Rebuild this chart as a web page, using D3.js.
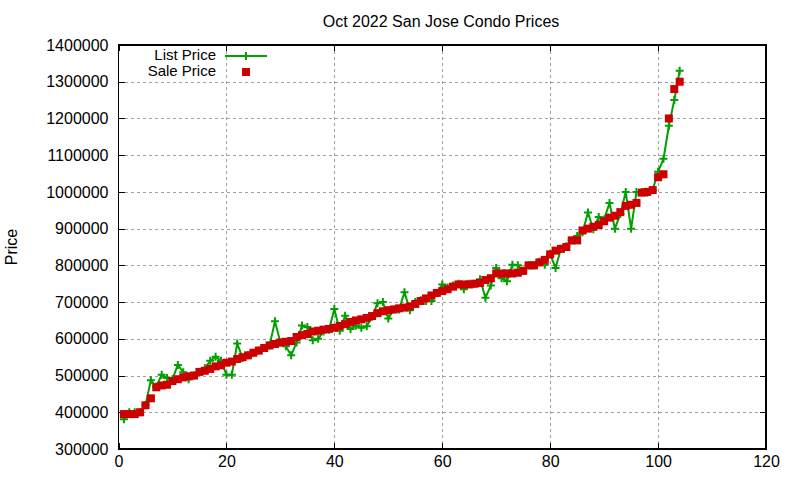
<!DOCTYPE html>
<html lang="en">
  <head>
    <meta charset="UTF-8"/>
    <title>Oct 2022 San Jose Condo Prices</title>
    <script src="https://d3js.org/d3.v7.min.js"></script>
    <style>
        body {
          margin: 0;
          background: #fff;
        }
        text {
          font-family: "Liberation Sans", Arial, sans-serif;
          font-size: 16px;
          fill: #000;
        }
        .legend text {
          font-size: 15px;
        }
        .grid line {
          stroke: #a0a0a0;
          stroke-width: 1;
          stroke-dasharray: 3, 3;
          shape-rendering: crispEdges;
        }
        .axis path {
          display: none;
        }
        .axis line {
          stroke: #000;
          shape-rendering: crispEdges;
        }
        .border {
          fill: none;
          stroke: #000;
          stroke-width: 1.5;
          shape-rendering: crispEdges;
        }
    </style>
  </head>
  <body>
    <script>
        // listing index 1..104, sorted by sale price
        const listPrice = [
          381000, 400000, 400000, 400000, 420000, 487000, 470000, 502000, 493000, 490000,
          529000, 509000, 490000, 500000, 509000, 520000, 540000, 551000, 540000, 502000,
          502000, 587000, 548000, 555000, 562000, 568000, 575000, 582000, 648000, 590000,
          580000, 555000, 590000, 636000, 632000, 596000, 600000, 620000, 625000, 681000,
          622000, 663000, 627000, 636000, 630000, 634000, 660000, 697000, 700000, 655000,
          680000, 680000, 727000, 678000, 700000, 705000, 703000, 703000, 725000, 748000,
          740000, 745000, 750000, 735000, 750000, 750000, 762000, 712000, 745000, 793000,
          765000, 757000, 802000, 800000, 785000, 800000, 800000, 810000, 802000, 830000,
          793000, 845000, 852000, 868000, 880000, 890000, 944000, 898000, 932000, 925000,
          970000, 900000, 940000, 1000000, 900000, 1000000, 1000000, 998000, 1005000, 1055000,
          1090000, 1180000, 1250000, 1330000
        ]
        const salePrice = [
          395000, 395000, 395000, 400000, 419000, 438000, 468000, 473000, 475000, 485000,
          490000, 495000, 498000, 500000, 510000, 513000, 518000, 525000, 528000, 535000,
          538000, 545000, 550000, 555000, 562000, 568000, 575000, 582000, 586000, 590000,
          592000, 594000, 605000, 610000, 613000, 620000, 622000, 625000, 627000, 630000,
          635000, 640000, 646000, 650000, 653000, 657000, 662000, 670000, 675000, 678000,
          680000, 683000, 685000, 688000, 695000, 703000, 710000, 718000, 725000, 730000,
          735000, 742000, 748000, 748000, 748000, 750000, 752000, 760000, 765000, 778000,
          778000, 778000, 778000, 780000, 785000, 800000, 800000, 808000, 815000, 830000,
          840000, 845000, 850000, 868000, 868000, 895000, 900000, 905000, 910000, 920000,
          930000, 935000, 945000, 962000, 965000, 970000, 998000, 1000000, 1005000, 1040000,
          1048000, 1200000, 1280000, 1300000
        ]
        const xTicks = [0, 20, 40, 60, 80, 100, 120]
        const yTicks = [300000, 400000, 500000, 600000, 700000, 800000, 900000,
                        1000000, 1100000, 1200000, 1300000, 1400000]

        const outerWidth = 800,
              outerHeight = 480,
              plotLeft = 118.5, plotRight = 766, plotTop = 45, plotBottom = 449

        const listColor = "#00a000",
              saleColor = "#cc0000"

        const xScale = d3.scaleLinear().domain([0, 120]).range([plotLeft, plotRight])
        const yScale = d3.scaleLinear().domain([300000, 1400000]).range([plotBottom, plotTop])

        const svg = d3.select("body").append("svg")
            .attr("width", outerWidth)
            .attr("height", outerHeight)

        // dashed grid
        const grid = svg.append("g").attr("class", "grid")
        grid.selectAll(".gy")
            .data(yTicks.slice(1, -1))
            .join("line")
            .attr("class", "gy")
            .attr("x1", plotLeft).attr("x2", plotRight)
            .attr("y1", d => Math.round(yScale(d)) + 0.5)
            .attr("y2", d => Math.round(yScale(d)) + 0.5)
        grid.selectAll(".gx")
            .data(xTicks.slice(1, -1))
            .join("line")
            .attr("class", "gx")
            .attr("y1", plotTop).attr("y2", plotBottom)
            .attr("x1", d => Math.round(xScale(d)) + 0.5)
            .attr("x2", d => Math.round(xScale(d)) + 0.5)

        // axes, ticks pointing inward like gnuplot (mirrored on top/right)
        const fmt = d3.format("d")
        svg.append("g")
            .attr("class", "axis")
            .attr("transform", `translate(0, ${plotBottom})`)
            .call(d3.axisBottom(xScale).tickValues(xTicks).tickSize(-6).tickPadding(7).tickFormat(fmt))
        svg.append("g")
            .attr("class", "axis")
            .attr("transform", `translate(0, ${plotTop})`)
            .call(d3.axisTop(xScale).tickValues(xTicks).tickSize(-6).tickFormat(""))
        svg.append("g")
            .attr("class", "axis")
            .attr("transform", `translate(${plotLeft}, 0)`)
            .call(d3.axisLeft(yScale).tickValues(yTicks).tickSize(-6).tickPadding(10).tickFormat(fmt))
        svg.append("g")
            .attr("class", "axis")
            .attr("transform", `translate(${plotRight}, 0)`)
            .call(d3.axisRight(yScale).tickValues(yTicks).tickSize(-6).tickFormat(""))

        svg.selectAll(".axis text").style("font-size", "16px").style("font-family", '"Liberation Sans", Arial, sans-serif')

        svg.append("rect")
            .attr("class", "border")
            .attr("x", plotLeft).attr("y", plotTop)
            .attr("width", plotRight - plotLeft).attr("height", plotBottom - plotTop)

        // list price: line with + markers
        const line = d3.line()
            .x((d, i) => xScale(i + 1))
            .y(d => yScale(d))
        svg.append("path")
            .datum(listPrice)
            .attr("fill", "none")
            .attr("stroke", listColor)
            .attr("stroke-width", 2)
            .attr("d", line)

        const plus = "M-4,0H4M0,-4V4"
        svg.selectAll(".lp")
            .data(listPrice)
            .join("path")
            .attr("class", "lp")
            .attr("transform", (d, i) => `translate(${xScale(i + 1)}, ${yScale(d)})`)
            .attr("d", plus)
            .attr("stroke", listColor)
            .attr("stroke-width", 2)

        // sale price: filled squares
        const sq = 8
        svg.selectAll(".sp")
            .data(salePrice)
            .join("rect")
            .attr("class", "sp")
            .attr("x", (d, i) => xScale(i + 1) - sq / 2)
            .attr("y", d => yScale(d) - sq / 2)
            .attr("width", sq)
            .attr("height", sq)
            .attr("fill", saleColor)

        // title and y label
        svg.append("text")
            .attr("x", 441)
            .attr("y", 27)
            .attr("text-anchor", "middle")
            .text("Oct 2022 San Jose Condo Prices")
        svg.append("text")
            .attr("transform", "translate(17, 247) rotate(-90)")
            .attr("text-anchor", "middle")
            .text("Price")

        // legend
        const legend = svg.append("g").attr("class", "legend")
        legend.append("text")
            .attr("x", 216).attr("y", 60)
            .attr("text-anchor", "end")
            .text("List Price")
        legend.append("line")
            .attr("x1", 225).attr("x2", 267)
            .attr("y1", 56).attr("y2", 56)
            .attr("stroke", listColor).attr("stroke-width", 2)
        legend.append("path")
            .attr("transform", "translate(246, 56)")
            .attr("d", plus)
            .attr("stroke", listColor).attr("stroke-width", 2)
        legend.append("text")
            .attr("x", 216).attr("y", 76)
            .attr("text-anchor", "end")
            .text("Sale Price")
        legend.append("rect")
            .attr("x", 246 - sq / 2).attr("y", 72 - sq / 2)
            .attr("width", sq).attr("height", sq)
            .attr("fill", saleColor)
    </script>
  </body>
</html>
